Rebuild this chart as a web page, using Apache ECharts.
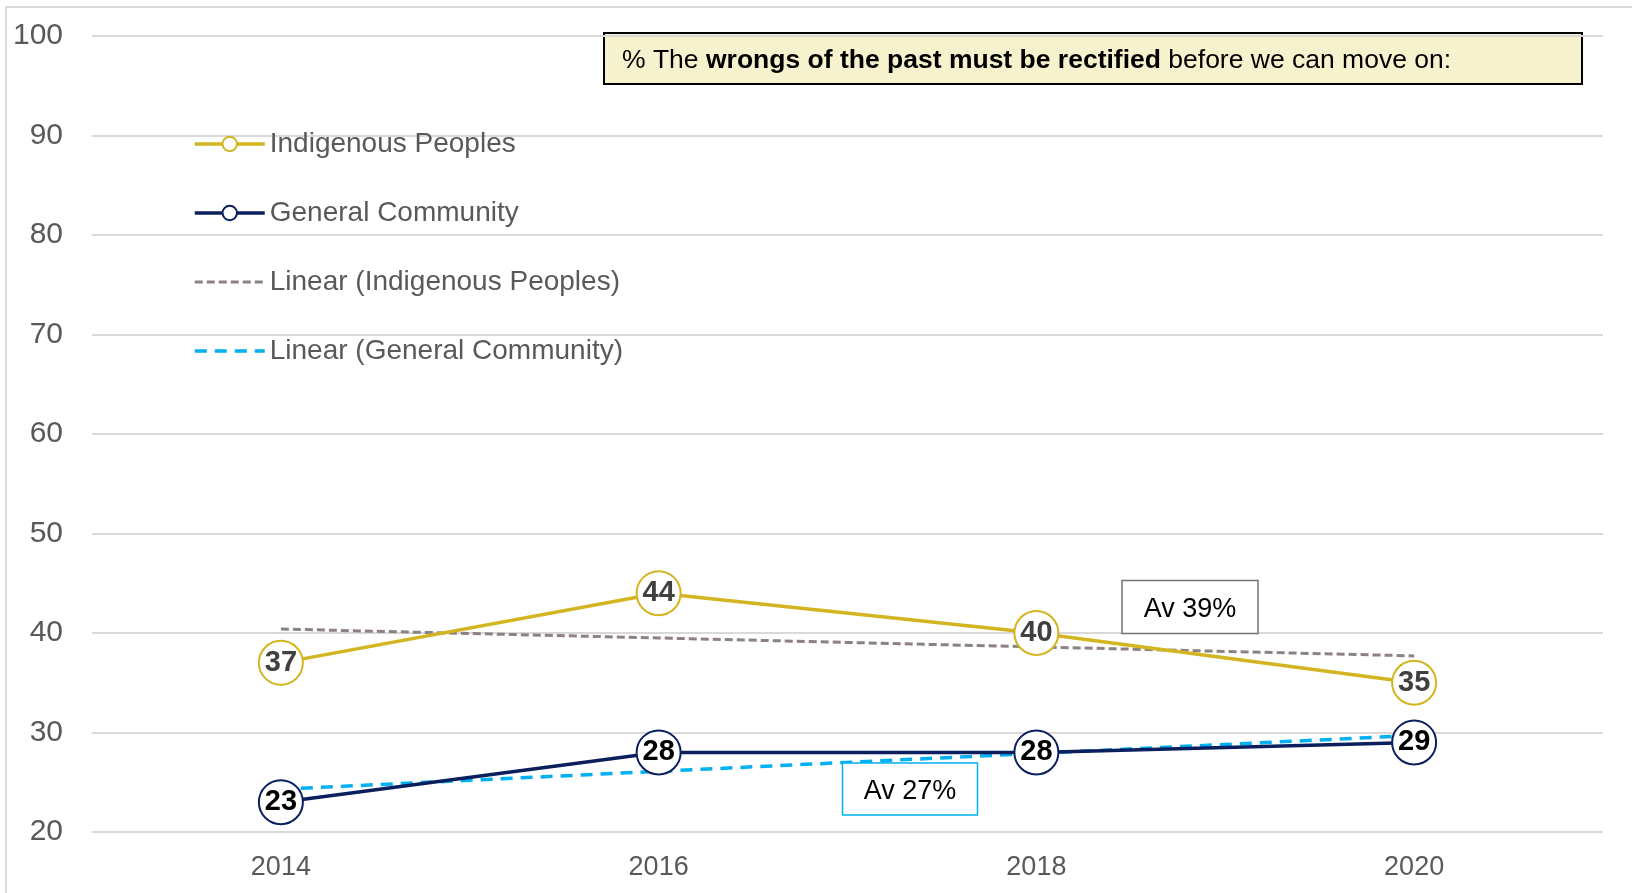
<!DOCTYPE html>
<html>
<head>
<meta charset="utf-8">
<title>Wrongs of the past</title>
<script src="https://cdn.jsdelivr.net/npm/echarts@6/dist/echarts.min.js"></script>
<style>
  html, body { margin: 0; padding: 0; background: #fff; }
  #chart { width: 1632px; height: 893px; }
</style>
</head>
<body>
<div id="chart"></div>
<script>
// data
const years = ["2014", "2016", "2018", "2020"];
const indigenous = [37, 44, 40, 35];
const general = [23, 28, 28, 29];
const trendIndigenous = [40.4, 39.5, 38.6, 37.7];
const trendGeneral = [24.3, 26.1, 27.9, 29.7];
const yTicks = { min: 20, max: 100, interval: 10 };

const GOLD = "#D2B520";
const NAVY = "#0B1F5E";
const GREY_TREND = "#8C8281";
const BLUE_TREND = "#00B0F0";
const FONT = "Liberation Sans, Arial, sans-serif";

const chart = echarts.init(document.getElementById("chart"));

function mainSeries(name, data, color, labelColor) {
  return {
    name: name,
    type: "line",
    data: data,
    z: 3,
    symbol: "circle",
    symbolSize: 44,
    lineStyle: { color: color, width: 3.5 },
    itemStyle: { color: "#fff", borderColor: color, borderWidth: 2 },
    label: {
      show: true,
      position: "inside",
      fontFamily: FONT,
      fontSize: 29,
      fontWeight: "bold",
      color: labelColor,
    },
    emphasis: { disabled: true },
  };
}

function trendSeries(name, data, color, dash, width) {
  return {
    name: name,
    type: "line",
    data: data,
    z: 2,
    symbol: "none",
    lineStyle: { color: color, width: width, type: dash },
    itemStyle: { color: color },
    emphasis: { disabled: true },
  };
}

// a boxed note: rectangle plus centred text
function note(text, cx, cy, w, h, border) {
  return [
    {
      type: "rect",
      silent: true,
      shape: { x: cx - w / 2, y: cy - h / 2, width: w, height: h },
      style: { fill: "#fff", stroke: border, lineWidth: 1.5 },
      z: 10,
    },
    {
      type: "text",
      silent: true,
      x: cx,
      y: cy + 3,
      z: 11,
      style: {
        text: text,
        fontFamily: FONT,
        fontSize: 27,
        fill: "#000",
        align: "center",
        verticalAlign: "middle",
      },
    },
  ];
}

const option = {
  animation: false,
  backgroundColor: "#fff",
  grid: { left: 92, right: 29, top: 36, bottom: 61 },
  legend: {
    data: [
      { name: "Indigenous Peoples" },
      { name: "General Community" },
      { name: "Linear (Indigenous Peoples)", itemStyle: { opacity: 0 } },
      { name: "Linear (General Community)", itemStyle: { opacity: 0 } },
    ],
    orient: "vertical",
    left: 188,
    top: 124,
    itemWidth: 70,
    itemHeight: 18,
    itemGap: 39,
    lineStyle: { width: "inherit" },
    textStyle: { fontFamily: FONT, fontSize: 28, color: "#595959", lineHeight: 30 },
  },
  xAxis: {
    type: "category",
    data: years,
    boundaryGap: true,
    axisLine: { show: false },
    axisTick: { show: false },
    axisLabel: { fontFamily: FONT, fontSize: 27, color: "#595959", margin: 22 },
  },
  yAxis: {
    type: "value",
    min: yTicks.min,
    max: yTicks.max,
    interval: yTicks.interval,
    axisLine: { show: false },
    axisTick: { show: false },
    axisLabel: { fontFamily: FONT, fontSize: 30, color: "#595959", margin: 29 },
    splitLine: { lineStyle: { color: "#D9D9D9", width: 2 } },
  },
  graphic: [
    {
      type: "rect",
      silent: true,
      shape: { x: 6, y: 7, width: 1700, height: 950 },
      style: { fill: "none", stroke: "#D9D9D9", lineWidth: 2 },
    },
    {
      type: "rect",
      silent: true,
      shape: { x: 604, y: 33, width: 978, height: 51 },
      style: { fill: "#F7F2CE", stroke: "#000", lineWidth: 2 },
    },
    {
      type: "text",
      silent: true,
      x: 622,
      y: 61,
      style: {
        text: "{n|% The }{b|wrongs of the past must be rectified}{n| before we can move on:}",
        verticalAlign: "middle",
        rich: {
          n: { fontFamily: FONT, fontSize: 26.5, color: "#000" },
          b: { fontFamily: FONT, fontSize: 26.5, color: "#000", fontWeight: "bold" },
        },
      },
    },
    ...note("Av 39%", 1190, 607, 136, 53, "#767171"),
    ...note("Av 27%", 910, 789, 135, 52, BLUE_TREND),
  ],
  series: [
    trendSeries("Linear (Indigenous Peoples)", trendIndigenous, GREY_TREND, [8, 4], 3),
    trendSeries("Linear (General Community)", trendGeneral, BLUE_TREND, [12, 8], 3.5),
    mainSeries("Indigenous Peoples", indigenous, GOLD, "#404040"),
    mainSeries("General Community", general, NAVY, "#000"),
  ],
};

chart.setOption(option);
</script>
</body>
</html>
